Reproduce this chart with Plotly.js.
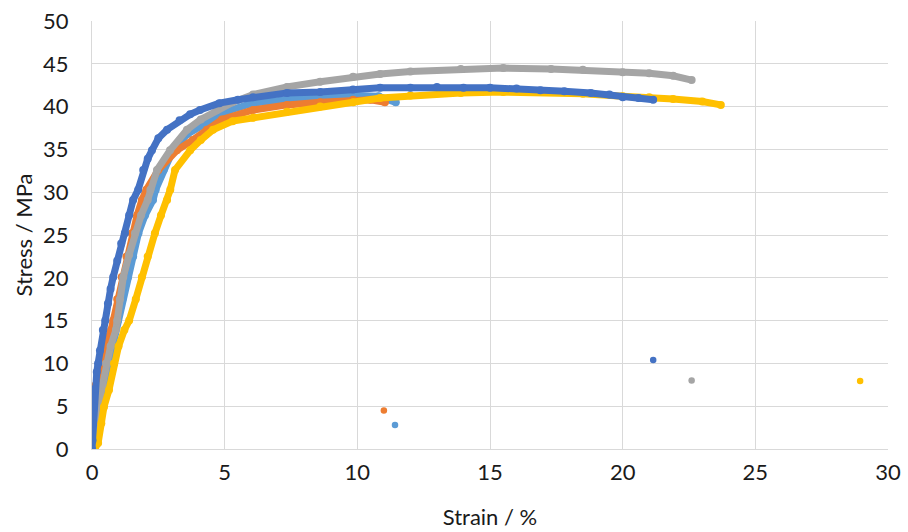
<!DOCTYPE html>
<html>
<head>
<meta charset="utf-8">
<script src="https://cdn.plot.ly/plotly-3.0.1.min.js"></script>
<style>html,body{margin:0;padding:0;background:#fff;}#chart{width:908px;height:532px;}</style>
</head>
<body>
<div id="chart"></div>
<script>
// Series 1 (dark blue)
const blueX = [0,0.02,0.03,0.05,0.1,0.18,0.23,0.3,0.41,0.5,0.6,0.7,0.8,0.95,1.1,1.24,1.4,1.55,1.74,1.93,2.1,2.26,2.5,2.83,3.3,3.7,4.07,4.8,5.5,6.07,7.35,8.6,9.84,10.86,12,13,14,15,16,16.9,17.8,18.8,19.5,20.0,20.6,21.15];
const blueY = [0,1,3,5,7,9,10,11.5,13.9,15,17,18.7,20.1,22,24,25.2,27.3,29.1,30.3,32.6,33.9,34.9,36.3,37.3,38.4,39.1,39.6,40.4,40.8,41.1,41.6,41.7,42.0,42.2,42.2,42.3,42.2,42.2,42.1,41.9,41.8,41.6,41.4,41.1,41.0,40.8];
const blueOutX = [21.15];
const blueOutY = [10.4];
// Series 2 (orange)
const orangeX = [0,0.02,0.03,0.05,0.15,0.34,0.55,0.72,0.8,0.95,1.12,1.3,1.5,1.7,1.88,2.05,2.5,3.2,3.8,4.33,4.9,6.07,7.35,8.6,9.84,10.5,11.04];
const orangeY = [0,2,4,5.7,7.5,10,12.5,13.9,15,17.5,20.1,22.5,25.2,27.3,29.1,30.3,32.6,34.9,36.1,37.3,38.5,39.6,40.2,40.5,40.8,40.8,40.5];
const orangeOutX = [11.0];
const orangeOutY = [4.5];
// Series 3 (gray)
const grayX = [0,0.05,0.12,0.23,0.4,0.53,0.7,0.9,0.95,1.05,1.18,1.4,1.62,1.85,2.1,2.2,2.45,2.94,3.58,4.1,4.7,5.3,6.07,7.35,8.6,9.84,10.86,12,13.9,15.5,17.3,18.5,20.0,21.0,21.9,22.6];
const grayY = [0,1.5,3,4.9,7.5,10,12,13.9,15,17.5,20.1,22.7,25.2,27.3,29.1,30.3,32.6,34.9,37.3,38.5,39.6,40.5,41.4,42.3,42.9,43.5,43.8,44.1,44.4,44.5,44.4,44.3,44.0,43.9,43.6,43.1];
const grayOutX = [22.6];
const grayOutY = [8.0];
// Series 4 (yellow)
const yellowX = [0.1,0.23,0.35,0.45,0.64,0.83,1.0,1.22,1.4,1.65,1.88,2.1,2.37,2.6,2.83,2.95,3.13,3.7,4.1,4.56,5.3,6.07,7.35,8.6,9.84,10.86,12,13.9,15.5,17.3,18.5,20.0,21.0,21.9,23.0,23.7];
const yellowY = [0,0.7,3,4.9,6.9,10,12,13.9,15,17.5,20.1,22.5,25.2,27.3,29.1,30.3,32.6,34.9,36.1,37.3,38.3,38.7,39.4,40.0,40.5,41.0,41.3,41.6,41.7,41.7,41.5,41.2,41.1,40.9,40.6,40.2];
const yellowOutX = [28.95];
const yellowOutY = [7.95];
// Series 5 (light blue)
const lightX = [0,0.1,0.25,0.45,0.64,0.8,0.98,1.15,1.36,1.55,1.75,2.0,2.3,2.4,2.7,3.05,3.6,4.56,5.2,6.07,7.35,8.6,9.84,10.8,11.45];
const lightY = [0,2,4.5,7.5,10,12.5,15,17.5,20.1,22.5,25.2,27.3,29.1,30.3,32.6,34.9,36.8,38.4,39.6,40.4,40.9,41.2,41.3,41.2,40.5];
const lightOutX = [11.42];
const lightOutY = [2.8];

const xTicks = [0,5,10,15,20,25,30];
const yTicks = [0,5,10,15,20,25,30,35,40,45,50];

function curve(x, y, color) {
  return {x: x, y: y, type: 'scatter', mode: 'lines+markers',
    line: {color: color, width: 7},
    marker: {color: color, size: 8}, showlegend: false, hoverinfo: 'skip'};
}
function pts(x, y, color) {
  return {x: x, y: y, type: 'scatter', mode: 'markers',
    marker: {color: color, size: 6.5}, showlegend: false, hoverinfo: 'skip'};
}
const C = {blue:'#4472C4', orange:'#ED7D31', gray:'#A5A5A5', yellow:'#FFC000', light:'#5B9BD5'};
const data = [
  curve(lightX, lightY, C.light),
  curve(orangeX, orangeY, C.orange),
  curve(grayX, grayY, C.gray),
  curve(yellowX, yellowY, C.yellow),
  curve(blueX, blueY, C.blue),
  pts(lightOutX, lightOutY, C.light),
  pts(orangeOutX, orangeOutY, C.orange),
  pts(grayOutX, grayOutY, C.gray),
  pts(yellowOutX, yellowOutY, C.yellow),
  pts(blueOutX, blueOutY, C.blue)
];
const font = {family: 'Lato, "Open Sans", sans-serif', size: 22, color: '#1a1a1a'};
const layout = {
  width: 908, height: 532,
  margin: {l: 92, r: 20, t: 21, b: 83},
  paper_bgcolor: '#fff', plot_bgcolor: '#fff',
  font: font,
  xaxis: {range: [0, 30], tickvals: xTicks, ticktext: xTicks.map(String),
    showgrid: true, gridcolor: '#D9D9D9', gridwidth: 1, zeroline: false,
    showline: true, linecolor: '#D9D9D9', linewidth: 1, mirror: false,
    ticks: 'outside', ticklen: 4, tickcolor: 'rgba(0,0,0,0)',
    title: {text: 'Strain / %', font: font, standoff: 25}, fixedrange: true},
  yaxis: {range: [0, 50], tickvals: yTicks, ticktext: yTicks.map(String),
    showgrid: true, gridcolor: '#D9D9D9', gridwidth: 1, zeroline: false,
    showline: true, linecolor: '#D9D9D9', linewidth: 1,
    ticks: 'outside', ticklen: 18, tickcolor: 'rgba(0,0,0,0)',
    title: {text: 'Stress / MPa', font: font, standoff: 4}, fixedrange: true}
};
Plotly.newPlot('chart', data, layout, {displayModeBar: false, staticPlot: true});
</script>
</body>
</html>
